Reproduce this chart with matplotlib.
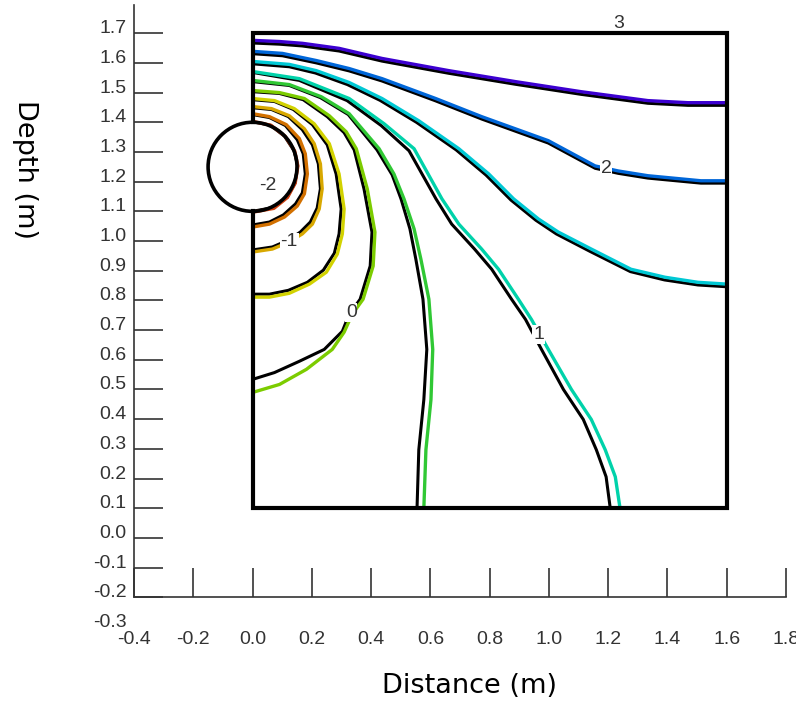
import matplotlib.pyplot as plt
from matplotlib.patches import Circle

# contour levels and colours (coloured set), black set drawn alongside
levels = [2.5, 2.0, 1.5, 1.0, 0.5, 0.0, -0.5, -1.0, -1.5, -2.0]
colours = ['#3c00d0', '#0066d8', '#00c8d4', '#00d2aa', '#30c834',
           '#7ccc00', '#d2d200', '#d8a800', '#d27000', '#d04010']

# coloured contour lines (x, y in metres)
x_p25 = [0, 0.091, 0.168, 0.292, 0.437, 0.662, 0.887, 1.109, 1.334, 1.469, 1.6]
y_p25 = [1.676, 1.672, 1.666, 1.649, 1.615, 1.574, 1.537, 1.503, 1.473, 1.466, 1.466]
x_p20 = [0, 0.101, 0.215, 0.326, 0.437, 0.618, 0.773, 0.998, 1.156, 1.234, 1.334, 1.513, 1.6]
y_p20 = [1.639, 1.632, 1.608, 1.581, 1.547, 1.480, 1.419, 1.338, 1.253, 1.236, 1.220, 1.203, 1.203]
x_p15 = [0, 0.124, 0.215, 0.326, 0.437, 0.561, 0.696, 0.797, 0.881, 0.965, 1.032, 1.143, 1.277, 1.392, 1.503, 1.6]
y_p15 = [1.605, 1.595, 1.574, 1.534, 1.480, 1.405, 1.311, 1.226, 1.142, 1.074, 1.030, 0.973, 0.905, 0.878, 0.861, 0.855]
x_p10 = [0, 0.158, 0.326, 0.444, 0.545, 0.639, 0.696, 0.773, 0.830, 0.897, 0.941, 0.998, 1.076, 1.143, 1.190, 1.224, 1.240]
y_p10 = [1.571, 1.547, 1.480, 1.395, 1.311, 1.142, 1.057, 0.973, 0.905, 0.804, 0.736, 0.635, 0.500, 0.399, 0.297, 0.206, 0.1]
x_p05 = [0, 0.124, 0.232, 0.326, 0.427, 0.477, 0.511, 0.545, 0.568, 0.595, 0.608, 0.602, 0.585, 0.578]
y_p05 = [1.541, 1.527, 1.486, 1.429, 1.311, 1.226, 1.142, 1.041, 0.939, 0.804, 0.635, 0.466, 0.297, 0.1]
x_z00 = [0, 0.091, 0.175, 0.259, 0.316, 0.350, 0.387, 0.413, 0.407, 0.373, 0.336, 0.309, 0.269, 0.182, 0.091, 0]
y_z00 = [1.507, 1.500, 1.480, 1.422, 1.368, 1.311, 1.176, 1.030, 0.916, 0.804, 0.753, 0.693, 0.635, 0.568, 0.517, 0.490]
x_n05 = [0, 0.074, 0.141, 0.208, 0.259, 0.292, 0.309, 0.303, 0.286, 0.249, 0.192, 0.124, 0.057, 0]
y_n05 = [1.480, 1.473, 1.446, 1.395, 1.328, 1.226, 1.108, 1.024, 0.956, 0.895, 0.855, 0.824, 0.811, 0.811]
x_n10 = [0, 0.064, 0.124, 0.175, 0.208, 0.229, 0.235, 0.225, 0.202, 0.168, 0.124, 0.067, 0]
y_n10 = [1.453, 1.446, 1.422, 1.378, 1.328, 1.260, 1.176, 1.108, 1.057, 1.024, 0.997, 0.973, 0.963]
x_n15 = [0, 0.057, 0.114, 0.158, 0.178, 0.185, 0.175, 0.151, 0.108, 0.057, 0]
y_n15 = [1.429, 1.419, 1.392, 1.345, 1.294, 1.226, 1.159, 1.118, 1.081, 1.057, 1.047]
x_n20 = [0, 0.062, 0.110, 0.142, 0.153, 0.144, 0.118, 0.072, 0]
y_n20 = [1.403, 1.390, 1.353, 1.304, 1.253, 1.195, 1.147, 1.110, 1.097]

# black contour lines
bx_p25 = [0, 0.091, 0.168, 0.292, 0.437, 0.662, 0.887, 1.109, 1.334, 1.469, 1.6]
by_p25 = [1.667, 1.663, 1.657, 1.640, 1.606, 1.565, 1.528, 1.494, 1.464, 1.457, 1.457]
bx_p20 = [0, 0.101, 0.215, 0.326, 0.437, 0.618, 0.773, 0.998, 1.156, 1.234, 1.334, 1.513, 1.6]
by_p20 = [1.631, 1.624, 1.600, 1.573, 1.539, 1.472, 1.411, 1.330, 1.245, 1.228, 1.212, 1.195, 1.195]
bx_p15 = [0, 0.124, 0.212, 0.320, 0.430, 0.553, 0.687, 0.788, 0.872, 0.956, 1.025, 1.139, 1.275, 1.390, 1.503, 1.6]
by_p15 = [1.597, 1.587, 1.566, 1.527, 1.474, 1.400, 1.307, 1.222, 1.138, 1.070, 1.024, 0.965, 0.897, 0.869, 0.852, 0.846]
bx_p10 = [0, 0.158, 0.319, 0.434, 0.528, 0.619, 0.672, 0.749, 0.807, 0.874, 0.921, 0.975, 1.049, 1.116, 1.160, 1.193, 1.207]
by_p10 = [1.568, 1.541, 1.473, 1.389, 1.304, 1.142, 1.057, 0.973, 0.905, 0.804, 0.736, 0.635, 0.500, 0.399, 0.297, 0.206, 0.1]
bx_p05 = [0, 0.124, 0.229, 0.323, 0.420, 0.471, 0.501, 0.531, 0.551, 0.575, 0.588, 0.578, 0.561, 0.555]
by_p05 = [1.537, 1.524, 1.483, 1.426, 1.307, 1.223, 1.142, 1.041, 0.939, 0.804, 0.635, 0.466, 0.297, 0.1]
bx_z00 = [0, 0.091, 0.171, 0.252, 0.309, 0.343, 0.376, 0.403, 0.397, 0.363, 0.326, 0.303, 0.242, 0.158, 0.074, 0]
by_z00 = [1.503, 1.497, 1.476, 1.419, 1.365, 1.307, 1.176, 1.030, 0.916, 0.804, 0.753, 0.696, 0.635, 0.595, 0.557, 0.534]
bx_n05 = [0, 0.074, 0.138, 0.202, 0.252, 0.282, 0.299, 0.292, 0.276, 0.239, 0.185, 0.121, 0.057, 0]
by_n05 = [1.476, 1.470, 1.443, 1.392, 1.324, 1.226, 1.108, 1.024, 0.959, 0.902, 0.861, 0.834, 0.821, 0.821]
bx_n10 = [0, 0.064, 0.121, 0.168, 0.202, 0.222, 0.229, 0.218, 0.195, 0.161, 0.121, 0.067, 0]
by_n10 = [1.449, 1.443, 1.419, 1.375, 1.324, 1.260, 1.176, 1.111, 1.064, 1.030, 1.003, 0.980, 0.970]
bx_n15 = [0, 0.057, 0.111, 0.151, 0.171, 0.178, 0.168, 0.145, 0.104, 0.057, 0]
by_n15 = [1.426, 1.416, 1.389, 1.341, 1.294, 1.226, 1.162, 1.125, 1.088, 1.064, 1.054]
bx_n20 = [0, 0.060, 0.108, 0.140, 0.152, 0.143, 0.117, 0.070, 0]
by_n20 = [1.402, 1.390, 1.353, 1.304, 1.253, 1.195, 1.148, 1.113, 1.100]

colour_lines = [(x_p25, y_p25), (x_p20, y_p20), (x_p15, y_p15), (x_p10, y_p10), (x_p05, y_p05),
                (x_z00, y_z00), (x_n05, y_n05), (x_n10, y_n10), (x_n15, y_n15), (x_n20, y_n20)]
black_lines = [(bx_p25, by_p25), (bx_p20, by_p20), (bx_p15, by_p15), (bx_p10, by_p10), (bx_p05, by_p05),
               (bx_z00, by_z00), (bx_n05, by_n05), (bx_n10, by_n10), (bx_n15, by_n15), (bx_n20, by_n20)]

# contour labels: text, x, y
label_text = ['3', '2', '1', '0', '-1', '-2']
label_x = [1.234, 1.193, 0.965, 0.333, 0.124, 0.050]
label_y = [1.733, 1.243, 0.686, 0.760, 0.997, 1.186]

# model boundary and the buried pipe
box_x = [0, 0, 1.6, 1.6, 0, 0]
box_y = [1.4, 1.7, 1.7, 0.1, 0.1, 1.1]
pipe_x, pipe_y, pipe_r = 0.0, 1.25, 0.15

x_ticks = [-0.4, -0.2, 0.0, 0.2, 0.4, 0.6, 0.8, 1.0, 1.2, 1.4, 1.6, 1.8]
y_ticks = [-0.3, -0.2, -0.1, 0.0, 0.1, 0.2, 0.3, 0.4, 0.5, 0.6, 0.7, 0.8,
           0.9, 1.0, 1.1, 1.2, 1.3, 1.4, 1.5, 1.6, 1.7]

fig = plt.figure(figsize=(7.96, 7.02), dpi=100)
ax = fig.add_axes([134 / 796, 75 / 702, 652 / 796, 622 / 702])
ax.set_xlim(-0.4, 1.8)
ax.set_ylim(-0.3, 1.795)

for (bx, by) in black_lines:
    ax.plot(bx, by, color='black', lw=2.2, zorder=2, solid_capstyle='butt')
for (cx, cy), col in zip(colour_lines, colours):
    ax.plot(cx, cy, color=col, lw=2.4, zorder=3, solid_capstyle='butt')

ax.plot(box_x, box_y, color='black', lw=3, zorder=5, solid_joinstyle='miter')
ax.add_patch(Circle((pipe_x, pipe_y), pipe_r, fill=False, ec='black', lw=2.6, zorder=5))

for t, lx, ly in zip(label_text, label_x, label_y):
    bb = None if t == '3' else dict(facecolor='white', edgecolor='none', pad=0.5)
    ax.text(lx, ly, t, fontsize=14, family='Liberation Sans', color='#333333',
            ha='center', va='center', zorder=6, bbox=bb)

# axes styling
for s in ['top', 'right']:
    ax.spines[s].set_visible(False)
ax.spines['bottom'].set_position(('data', -0.2))
ax.spines['left'].set_bounds(-0.2, 1.795)
for s in ['bottom', 'left']:
    ax.spines[s].set_color('#333333')
    ax.spines[s].set_linewidth(1.2)

ax.set_xticks(x_ticks)
ax.set_xticklabels([f'{v:.1f}' for v in x_ticks])
ax.set_yticks(y_ticks)
ax.set_yticklabels([f'{v:.1f}' for v in y_ticks])
ax.tick_params(axis='x', direction='in', length=21, width=1.2, color='#333333', pad=24,
               labelsize=14, labelcolor='#333333')
ax.tick_params(axis='y', direction='in', length=21, width=1.2, color='#333333', pad=5.5,
               labelsize=14, labelcolor='#333333')
for lab in ax.get_xticklabels() + ax.get_yticklabels():
    lab.set_family('Liberation Sans')
for lab in ax.get_yticklabels():
    lab.set_verticalalignment('baseline')
ax.yaxis.get_major_ticks()[0].tick1line.set_visible(False)

fig.text(470 / 796, 9 / 702, 'Distance (m)', fontsize=19.5, ha='center', va='baseline')
fig.text(25 / 796, 1 - 170 / 702, 'Depth (m)', fontsize=19.5, rotation=270,
         ha='center', va='center')

fig.savefig('out.png', dpi=100)
